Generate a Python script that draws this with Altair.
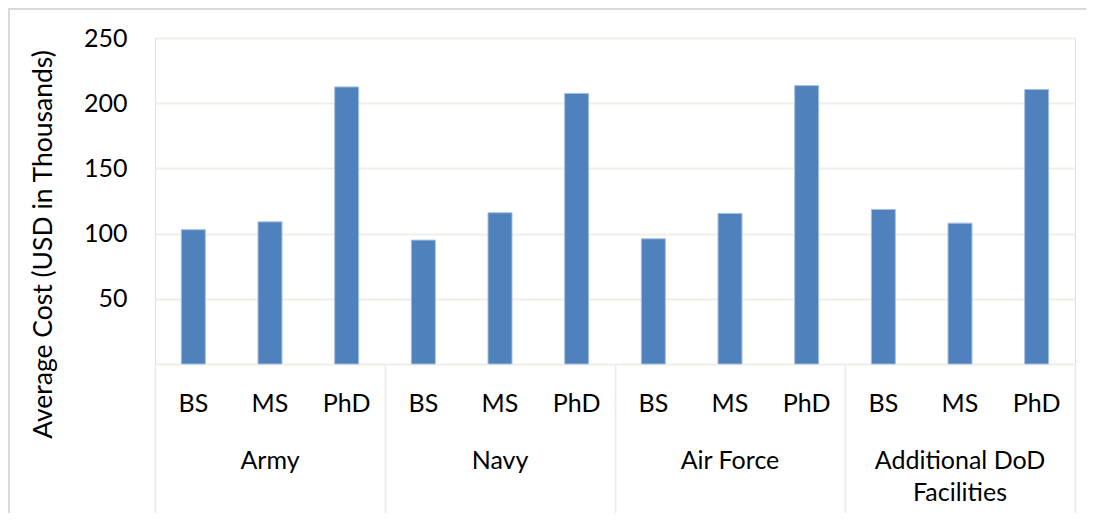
import altair as alt
import pandas as pd

groups = ["Army", "Navy", "Air Force", "Additional DoD\nFacilities"]
degrees = ["BS", "MS", "PhD"]
army = [103, 109, 212.5]
navy = [95, 116, 207.5]
air_force = [96, 115.5, 213.5]
additional = [118.5, 108, 210.5]
y_ticks = [50, 100, 150, 200, 250]

series = [army, navy, air_force, additional]
rows = []
for gi, (g, vals) in enumerate(zip(groups, series)):
    for di, (d, v) in enumerate(zip(degrees, vals)):
        rows.append({"group": g, "degree": d, "cost": v, "slot": gi * 3 + di + 0.5})
df = pd.DataFrame(rows)
gdf = pd.DataFrame({"group": groups, "center": [i * 3 + 1.5 for i in range(len(groups))]})

FONT = "Lato"
GRID = "#efefe9"
n_slots = len(groups) * len(degrees)
xscale = alt.Scale(domain=[0, n_slots], nice=False, zero=False, padding=0)
yscale = alt.Scale(domain=[0, 250], nice=False)

bars = alt.Chart(df).mark_bar(size=24, color="#4f81bd", stroke="#a7bfdf", strokeWidth=1).encode(
    x=alt.X("slot:Q", scale=xscale,
            axis=alt.Axis(values=list(range(0, n_slots + 1, 3)), labels=False, grid=False,
                          tickSize=149, tickColor=GRID, tickWidth=2, domainColor=GRID,
                          domainWidth=2, title=None)),
    y=alt.Y("cost:Q", scale=yscale,
            axis=alt.Axis(values=y_ticks, grid=True, gridColor=GRID, gridWidth=2,
                          domain=False, ticks=False, tickSize=0, labelPadding=28,
                          labelFont=FONT, labelFontSize=25, labelColor="#000000",
                          title="Average Cost (USD in Thousands)", titleFont=FONT,
                          titleFontSize=26.5, titleFontWeight="normal", titleColor="#000000",
                          titleX=-112, titleY=206, titleAngle=270, titleAlign="center",
                          titleBaseline="middle")),
)

deg_text = alt.Chart(df).mark_text(font=FONT, fontSize=25, color="#000000", baseline="alphabetic").encode(
    x=alt.X("slot:Q", scale=xscale),
    y=alt.value(373.5),
    text="degree:N",
)

grp_text = alt.Chart(gdf).mark_text(font=FONT, fontSize=25, color="#000000", baseline="alphabetic",
                                   lineBreak="\n", lineHeight=32).encode(
    x=alt.X("center:Q", scale=xscale),
    y=alt.value(431),
    text="group:N",
)

frame_df = pd.DataFrame({"k": [0]})
frame_top = alt.Chart(frame_df).mark_rule(color="#d9d9d9", strokeWidth=2).encode(
    x=alt.value(-147), x2=alt.value(935), y=alt.value(-29))
frame_left = alt.Chart(frame_df).mark_rule(color="#d9d9d9", strokeWidth=2).encode(
    x=alt.value(-146), y=alt.value(-30), y2=alt.value(500))

chart = alt.layer(bars, deg_text, grp_text, frame_top, frame_left).properties(
    width=920, height=326,
    autosize=alt.AutoSizeParams(type="none"),
    padding={"left": 147, "top": 30, "right": 11, "bottom": 149},
).configure_view(strokeWidth=0).configure(background="white")

chart.save("out.html", embed_options={"renderer": "svg", "actions": False})
